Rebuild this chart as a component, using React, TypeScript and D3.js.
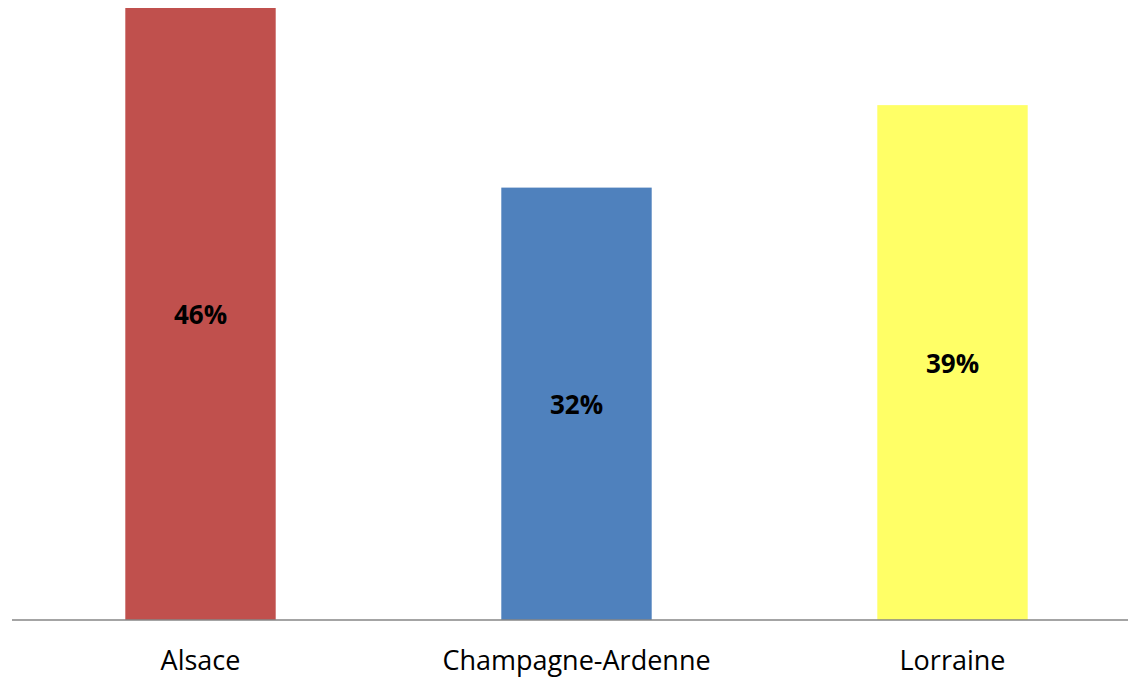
import React from "react";
import * as d3 from "d3";

const categories = ["Alsace", "Champagne-Ardenne", "Lorraine"];
const values = [0.46, 0.325, 0.387];
const labels = ["46%", "32%", "39%"];
const colors = ["#C0504D", "#4F81BD", "#FFFF66"];

const W = 1128;
const H = 678;
const baseY = 620;

export default function App() {
  const x = d3
    .scaleBand<string>()
    .domain(categories)
    .range([12.5, 1140.5])
    .paddingInner(0.6)
    .paddingOuter(0.3);
  const y = d3.scaleLinear().domain([0, 0.46]).range([baseY, 8]);
  const font = "'Open Sans', sans-serif";
  return (
    <svg
      width={W}
      height={H}
      style={{ position: "absolute", left: 0, top: 0, background: "#fff" }}
    >
      {categories.map((c, i) => {
        const bx = x(c)!;
        const top = y(values[i]);
        return (
          <g key={c}>
            <rect x={bx} y={top} width={x.bandwidth()} height={baseY - top} fill={colors[i]} />
            <text
              x={bx + x.bandwidth() / 2}
              y={(top + baseY) / 2 + 10}
              textAnchor="middle"
              fontFamily={font}
              fontWeight="bold"
              fontSize={26}
              fill="#000"
            >
              {labels[i]}
            </text>
            <text
              x={bx + x.bandwidth() / 2}
              y={670}
              textAnchor="middle"
              fontFamily={font}
              fontSize={27}
              fill="#000"
            >
              {c}
            </text>
          </g>
        );
      })}
      <line x1={12} x2={W} y1={baseY} y2={baseY} stroke="#868686" strokeWidth={1.5} />
    </svg>
  );
}
